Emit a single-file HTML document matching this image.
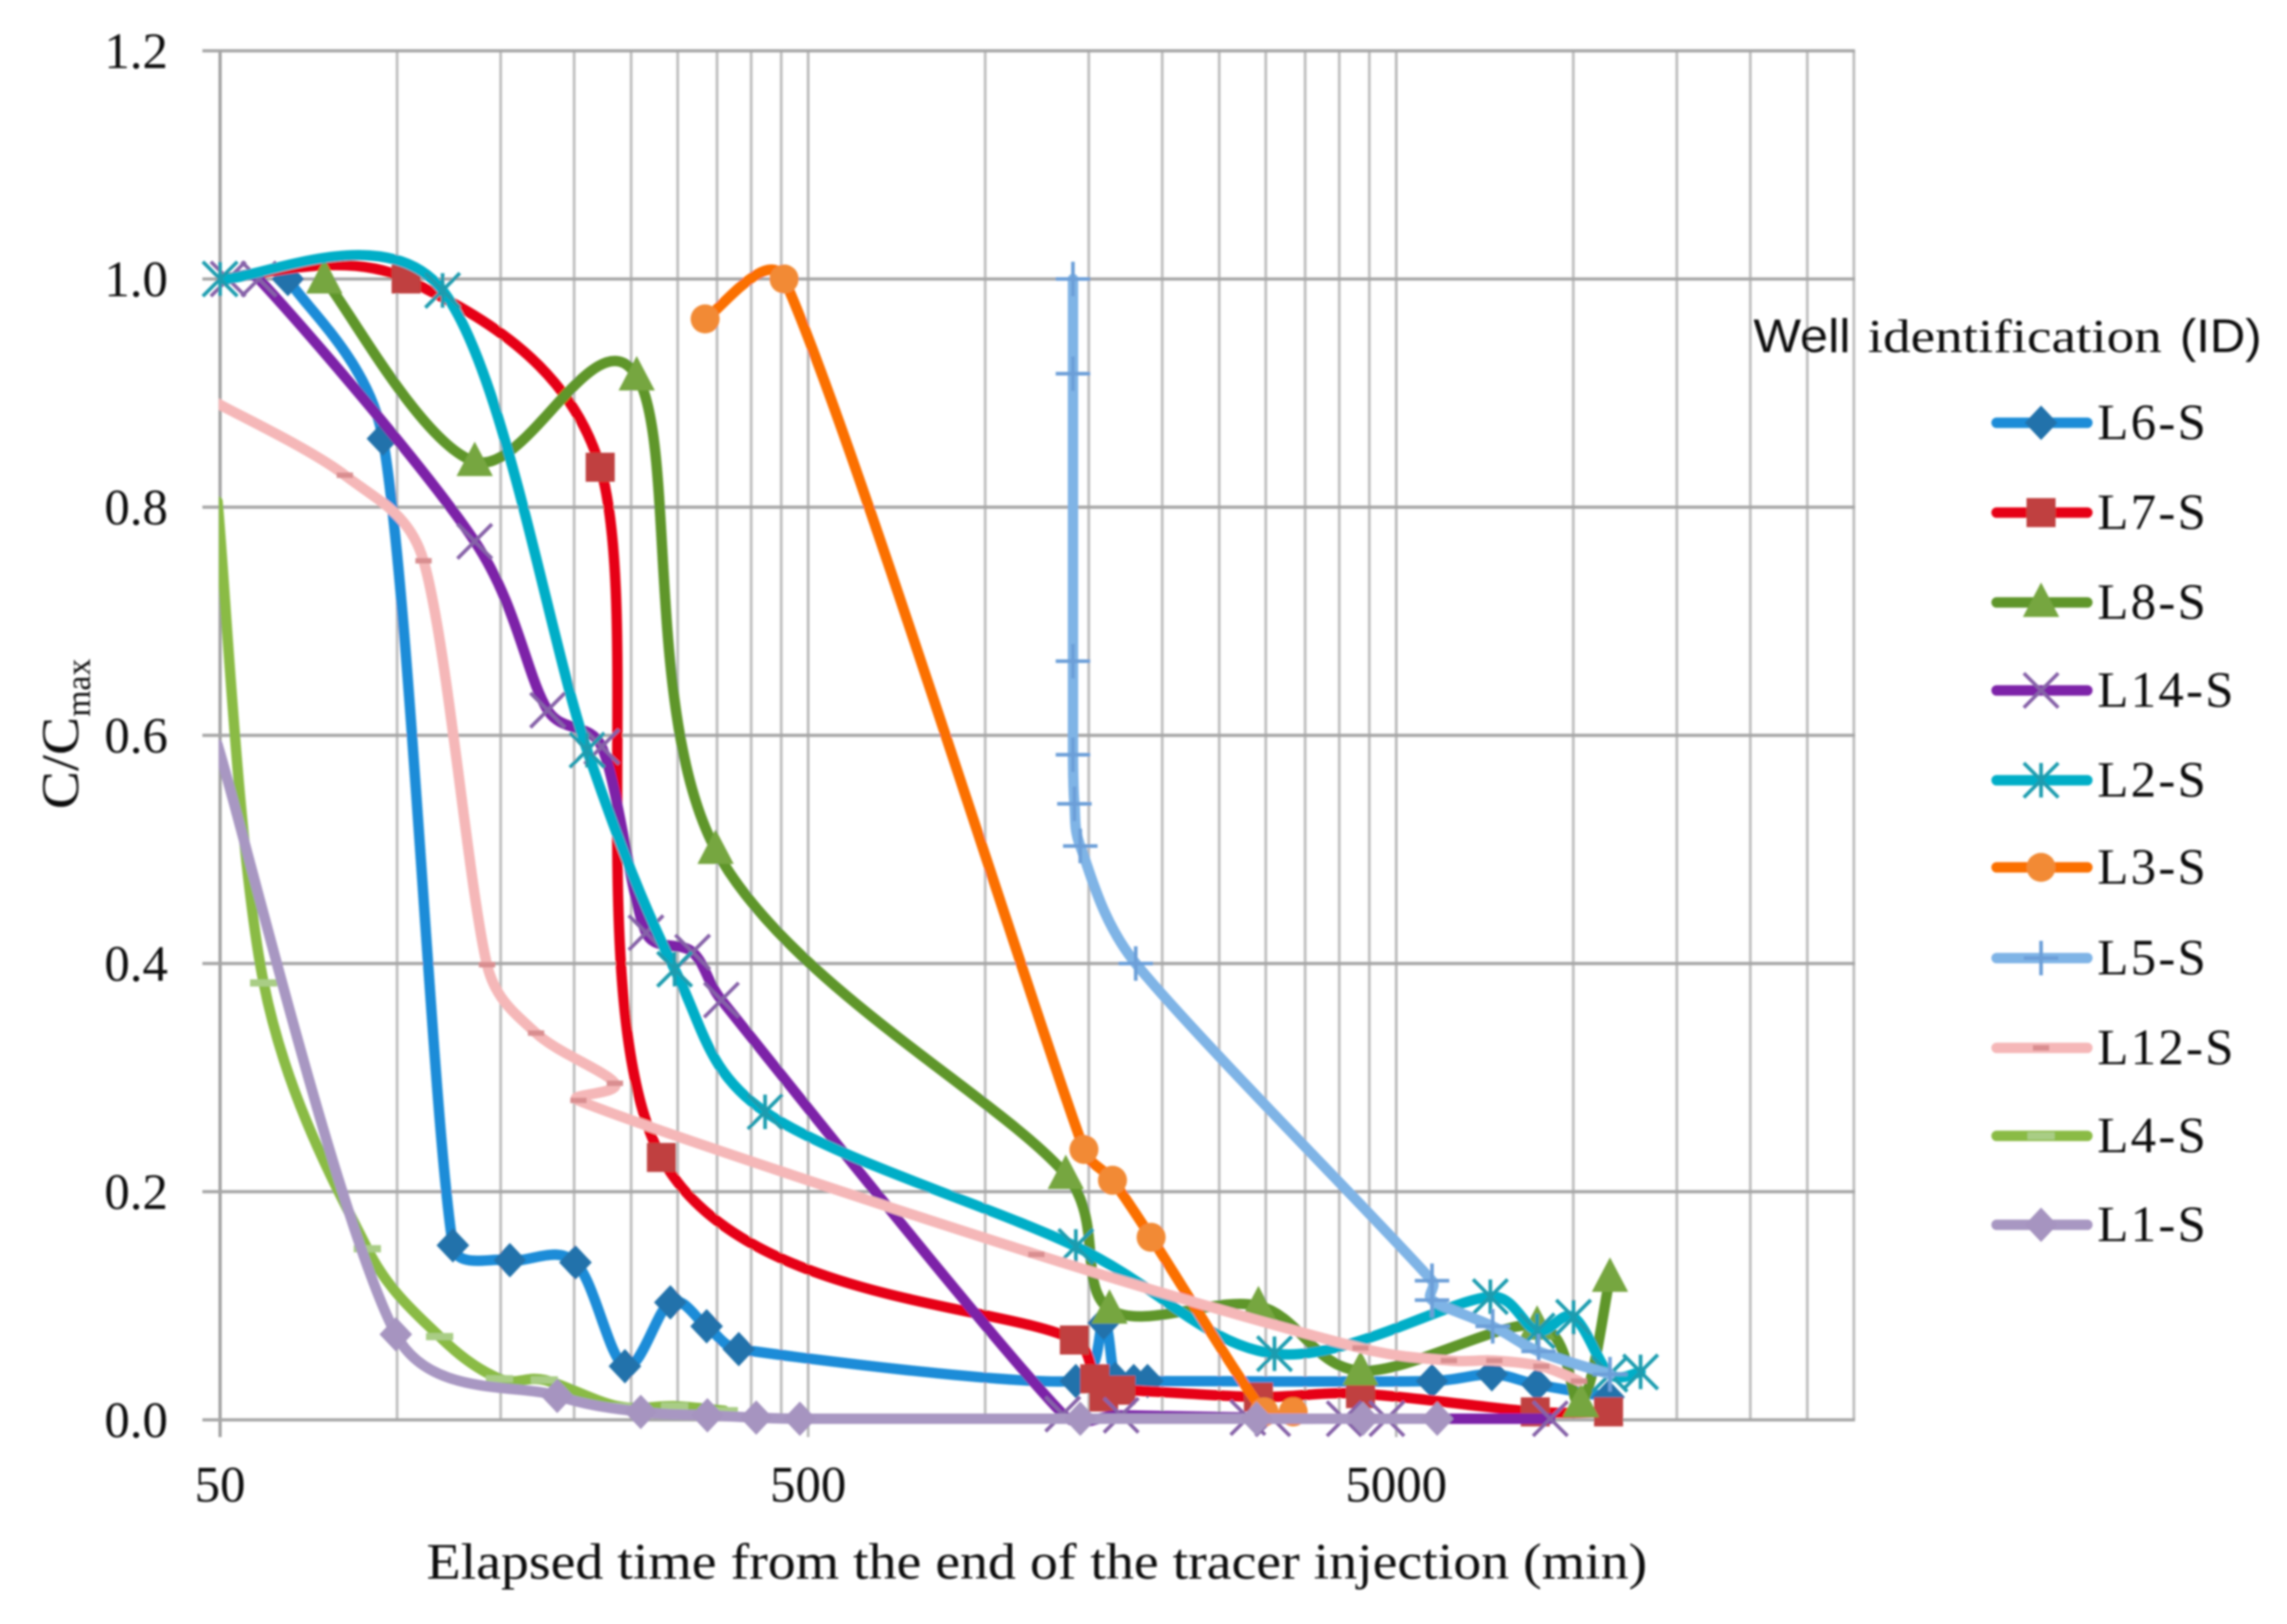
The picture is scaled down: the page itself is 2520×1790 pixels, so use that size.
<!DOCTYPE html>
<html lang="en">
<head>
<meta charset="utf-8">
<title>Tracer breakthrough curves</title>
<style>
html,body{margin:0;padding:0;background:#fff;width:2520px;height:1790px;overflow:hidden}
svg{display:block}
text{font-family:"Liberation Serif","DejaVu Serif",serif;fill:#111}
.sans{font-family:"Liberation Sans","DejaVu Sans",sans-serif}
</style>
</head>
<body>
<svg id="chart" xmlns="http://www.w3.org/2000/svg" width="2520" height="1790" viewBox="0 0 2520 1790">
  <defs>
    <filter id="soft" x="-2%" y="-2%" width="104%" height="104%"><feGaussianBlur stdDeviation="1.1"/></filter>
    <clipPath id="plot-clip"><rect x="241" y="0" width="2000" height="1790"/></clipPath>
  </defs>
  <rect width="2520" height="1790" fill="#fff"/>
  <g id="root" filter="url(#soft)">
    <g id="grid"></g>
    <g id="series"></g>
    <g id="ticks"></g>
    <g id="legend"></g>
    <text x="470" y="1740" font-size="56" textLength="1345" lengthAdjust="spacingAndGlyphs">Elapsed time from the end of the tracer injection (min)</text>
    <text transform="translate(86,892) rotate(-90)" font-size="58" textLength="102" lengthAdjust="spacingAndGlyphs">C/C</text>
    <text transform="translate(99,790) rotate(-90)" font-size="38" textLength="64" lengthAdjust="spacingAndGlyphs">max</text>
    <text class="sans" x="1932" y="388" font-size="52" textLength="107" lengthAdjust="spacingAndGlyphs">Well</text>
    <text x="2058" y="388" font-size="52" textLength="324" lengthAdjust="spacingAndGlyphs">identification</text>
    <text class="sans" x="2402" y="388" font-size="52" textLength="90" lengthAdjust="spacingAndGlyphs">(ID)</text>
  </g>
</svg>
<script>
// Axis tick data
const yTickValues = [0, 0.2, 0.4, 0.6, 0.8, 1.0, 1.2];
const yTickLabels = ['0.0', '0.2', '0.4', '0.6', '0.8', '1.0', '1.2'];
const xMajorTicks = [50, 500, 5000];
const xMajorLabels = ['50', '500', '5000'];
const xMinorTicks = [100, 150, 200, 250, 300, 350, 400, 450, 1000, 1500, 2000, 2500, 3000, 3500, 4000, 4500, 10000, 15000, 20000, 25000, 30000];
const xAxisMinimum = 50;

// Series data: elapsed time (min) and C/Cmax
const l6Times = [65.2, 94.6, 124.4, 155.5, 201, 244, 291.5, 336, 381, 1426, 1590, 1664, 1789, 1888, 5752, 7270, 8680, 11480];
const l6Values = [1.0, 0.86, 0.153, 0.14, 0.138, 0.047, 0.103, 0.082, 0.062, 0.034, 0.085, 0.036, 0.034, 0.034, 0.034, 0.04, 0.031, 0.02];
const l7Times = [49.5, 103.6, 221.5, 281.5, 1418, 1536, 1590, 1700, 2915, 4347, 8617, 11480];
const l7Values = [1.0, 1.0, 0.835, 0.23, 0.07, 0.036, 0.02, 0.026, 0.02, 0.023, 0.007, 0.007];
const l8Times = [75.2, 135.5, 255.5, 348, 1371, 1627, 2915, 4347, 8680, 10300, 11545];
const l8Values = [1.0, 0.84, 0.915, 0.5, 0.215, 0.097, 0.1, 0.043, 0.083, 0.015, 0.125];
const l14Times = [51.6, 58.2, 135.5, 180.3, 222.8, 265, 318, 356, 1355, 1703, 2797, 3083, 4078, 4820, 9140];
const l14Values = [1.0, 1.0, 0.77, 0.622, 0.59, 0.427, 0.41, 0.368, 0.005, 0.004, 0.002, 0.001, 0.001, 0.001, 0.001];
const l2Times = [50, 119.5, 210.4, 296.4, 422.4, 1426, 3104, 7227, 8680, 10010, 11545, 13015];
const l2Values = [1.0, 0.99, 0.587, 0.395, 0.27, 0.152, 0.058, 0.108, 0.078, 0.09, 0.04, 0.042];
const l3Times = [334, 455, 1472, 1646, 1915, 2980, 3340];
const l3Values = [0.965, 1.0, 0.237, 0.21, 0.16, 0.007, 0.007];
const l5Times = [1410, 1410, 1410, 1410, 1418, 1451, 1803, 5752, 5752, 7295, 8730, 11545];
const l5Values = [1.0, 0.917, 0.665, 0.583, 0.54, 0.503, 0.4, 0.122, 0.105, 0.082, 0.06, 0.04];
const l12Times = [49.5, 81.5, 110.9, 142.2, 172.3, 234.6, 203.4, 1222, 4347, 6146, 7340, 8826, 10220];
const l12Values = [0.891, 0.828, 0.753, 0.399, 0.339, 0.295, 0.28, 0.145, 0.063, 0.052, 0.052, 0.047, 0.034];
const l4Times = [49.5, 59.3, 89, 118.1, 149.3, 178, 236.9, 296.4, 360];
const l4Values = [0.805, 0.383, 0.15, 0.073, 0.036, 0.035, 0.012, 0.012, 0.008];
const l1Times = [49.5, 99.5, 187.2, 259.6, 337, 408, 484, 1451, 2894, 4389, 5870];
const l1Values = [0.592, 0.075, 0.021, 0.007, 0.004, 0.002, 0.001, 0.001, 0.001, 0.001, 0.001];

const seriesList = [
  {id: 'L6-S',  times: l6Times,  values: l6Values,  line: '#1a8cd8', mark: '#2272ab', shape: 'diamond'},
  {id: 'L7-S',  times: l7Times,  values: l7Values,  line: '#e60012', mark: '#c0413f', shape: 'square'},
  {id: 'L8-S',  times: l8Times,  values: l8Values,  line: '#5e9629', mark: '#76a63f', shape: 'triangle'},
  {id: 'L14-S', times: l14Times, values: l14Values, line: '#7d24a8', mark: '#8662a8', shape: 'cross'},
  {id: 'L2-S',  times: l2Times,  values: l2Values,  line: '#00aec7', mark: '#1a9caf', shape: 'star'},
  {id: 'L3-S',  times: l3Times,  values: l3Values,  line: '#fb6f02', mark: '#f28a35', shape: 'circle'},
  {id: 'L5-S',  times: l5Times,  values: l5Values,  line: '#7fb4e6', mark: '#6c9fd8', shape: 'plus'},
  {id: 'L12-S', times: l12Times, values: l12Values, line: '#f5b7b8', mark: '#d98e90', shape: 'dash'},
  {id: 'L4-S',  times: l4Times,  values: l4Values,  line: '#8abb45', mark: '#a9cd85', shape: 'longdash'},
  {id: 'L1-S',  times: l1Times,  values: l1Values,  line: '#a897c2', mark: '#a694c0', shape: 'diamond'}
];

const NS = 'http://www.w3.org/2000/svg';
const AXIS = {x0: 242.5, decade: 648, y0: 1565, unit: 1257.5, left: 223, right: 2044, bottom: 1584};
function xScale(t) { return AXIS.x0 + AXIS.decade * Math.log10(t / 50); }
function yScale(v) { return AXIS.y0 - AXIS.unit * v; }

function make(tag, attrs, parent) {
  const el = document.createElementNS(NS, tag);
  for (const k in attrs) el.setAttribute(k, attrs[k]);
  parent.appendChild(el);
  return el;
}

// Spreadsheet-style smoothing: tangent is (next - prev) / 6, limited relative to the segment length.
function control(before, after, seg) {
  const dx = after[0] - before[0], dy = after[1] - before[1];
  const len = Math.hypot(dx, dy);
  if (len === 0) return [0, 0];
  const k = Math.min(len / 6, seg / 2.4) / len;
  return [dx * k, dy * k];
}

function splinePath(pts) {
  let d = 'M' + pts[0][0].toFixed(1) + ' ' + pts[0][1].toFixed(1);
  for (let i = 0; i < pts.length - 1; i++) {
    const p0 = pts[Math.max(0, i - 1)], p1 = pts[i], p2 = pts[i + 1], p3 = pts[Math.min(pts.length - 1, i + 2)];
    const seg = Math.hypot(p2[0] - p1[0], p2[1] - p1[1]);
    const t1 = control(p0, p2, seg);
    const t2 = control(p1, p3, seg);
    d += 'C' + [p1[0] + t1[0], p1[1] + t1[1], p2[0] - t2[0], p2[1] - t2[1], p2[0], p2[1]].map(n => n.toFixed(1)).join(' ');
  }
  return d;
}

function drawMarker(parent, shape, cx, cy, color, label) {
  const r = 19;
  let el;
  if (shape === 'diamond') {
    el = make('polygon', {points: [cx, cy - r, cx + r - 1, cy, cx, cy + r, cx - r + 1, cy].join(' '), fill: color}, parent);
  } else if (shape === 'square') {
    el = make('rect', {x: cx - 16, y: cy - 16, width: 32, height: 32, fill: color}, parent);
  } else if (shape === 'triangle') {
    el = make('polygon', {points: [cx, cy - 22, cx + 20, cy + 16, cx - 20, cy + 16].join(' '), fill: color}, parent);
  } else if (shape === 'circle') {
    el = make('circle', {cx: cx, cy: cy, r: 16, fill: color}, parent);
  } else if (shape === 'cross') {
    el = make('path', {d: `M${cx - r} ${cy - r}L${cx + r} ${cy + r}M${cx - r} ${cy + r}L${cx + r} ${cy - r}`, stroke: color, 'stroke-width': 4, fill: 'none'}, parent);
  } else if (shape === 'star') {
    el = make('path', {d: `M${cx - r} ${cy - r}L${cx + r} ${cy + r}M${cx - r} ${cy + r}L${cx + r} ${cy - r}M${cx} ${cy - r}L${cx} ${cy + r}`, stroke: color, 'stroke-width': 4, fill: 'none'}, parent);
  } else if (shape === 'plus') {
    el = make('path', {d: `M${cx - r} ${cy}L${cx + r} ${cy}M${cx} ${cy - r}L${cx} ${cy + r}`, stroke: color, 'stroke-width': 4, fill: 'none'}, parent);
  } else if (shape === 'dash') {
    el = make('rect', {x: cx - 9, y: cy - 3, width: 18, height: 6, fill: color}, parent);
  } else {
    el = make('rect', {x: cx - 15, y: cy - 4, width: 30, height: 8, fill: color}, parent);
  }
  
  
  return el;
}

const gridG = document.getElementById('grid');
xMinorTicks.forEach(function (t) {
  const ln = make('line', {x1: xScale(t), x2: xScale(t), y1: yScale(1.2), y2: yScale(0), stroke: '#bdbdbd', 'stroke-width': 3}, gridG);
  
  
});
xMajorTicks.forEach(function (t) {
  const ln = make('line', {x1: xScale(t), x2: xScale(t), y1: yScale(1.2), y2: AXIS.bottom, stroke: t === xAxisMinimum ? '#a0a0a0' : '#bababa', 'stroke-width': t === xAxisMinimum ? 3.5 : 3}, gridG);
  
  
});
yTickValues.forEach(function (v) {
  const ln = make('line', {x1: AXIS.left, x2: AXIS.right, y1: yScale(v), y2: yScale(v), stroke: '#a6a6a6', 'stroke-width': 3.5}, gridG);
  
  
});

const seriesG = document.getElementById('series');
seriesList.forEach(function (s) {
  const g = make('g', {}, seriesG);
  
  
  const pts = s.times.map((t, i) => [xScale(t), yScale(s.values[i])]);
  const path = make('path', {d: splinePath(pts), fill: 'none', stroke: s.line, 'stroke-width': 11.5, 'stroke-linecap': 'round', 'stroke-linejoin': 'round', 'clip-path': 'url(#plot-clip)'}, g);
  
  
  pts.forEach(function (p, i) {
    if (s.times[i] < xAxisMinimum) return;
    drawMarker(g, s.shape, p[0], p[1], s.mark, 'point-' + s.id.toLowerCase() + '-' + i);
  });
});

const ticksG = document.getElementById('ticks');
yTickValues.forEach(function (v, i) {
  const t = make('text', {x: 185, y: yScale(v) + 19, 'font-size': 56, 'text-anchor': 'end'}, ticksG);
  t.textContent = yTickLabels[i];
  
  
});
xMajorTicks.forEach(function (v, i) {
  const t = make('text', {x: xScale(v), y: 1655, 'font-size': 56, 'text-anchor': 'middle'}, ticksG);
  t.textContent = xMajorLabels[i];
  
  
});

const legendRowCenters = [466, 565, 664, 761, 860, 956, 1056, 1155, 1252, 1350];
const legendG = document.getElementById('legend');
seriesList.forEach(function (s, i) {
  const y = legendRowCenters[i];
  const g = make('g', {}, legendG);
  
  
  const l = make('line', {x1: 2200, x2: 2300, y1: y, y2: y, stroke: s.line, 'stroke-width': 11.5, 'stroke-linecap': 'round'}, g);
  
  
  drawMarker(g, s.shape, 2249, y, s.mark, 'legend-marker');
  const t = make('text', {x: 2311, y: y + 18, 'font-size': 56, 'letter-spacing': 2.5}, g);
  t.textContent = s.id;
  
  
});
</script>
</body>
</html>
